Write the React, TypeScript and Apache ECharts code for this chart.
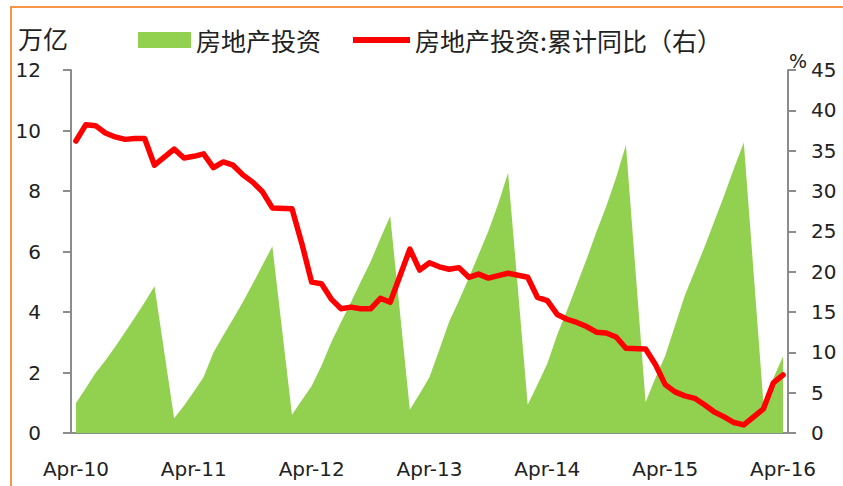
import React, { useEffect, useRef } from "react";
import * as echarts from "echarts";

// ---- data ----
const monthNames = ["Jan", "Feb", "Mar", "Apr", "May", "Jun", "Jul", "Aug", "Sep", "Oct", "Nov", "Dec"];
const years = [2010, 2011, 2012, 2013, 2014, 2015, 2016];
const firstMonthIndex = 3; // Apr-10
const lastMonthIndex = 3; // Apr-16

// cumulative real-estate investment, trillion yuan (Jan not published -> null)
const invest2010 = [0.98, 1.48, 1.98, 2.4, 2.85, 3.33, 3.82, 4.32, 4.85];
const invest2011 = [null, 0.49, 0.9, 1.36, 1.85, 2.66, 3.22, 3.77, 4.33, 4.93, 5.55, 6.17];
const invest2012 = [null, 0.6, 1.08, 1.55, 2.22, 3.0, 3.67, 4.32, 5.0, 5.66, 6.43, 7.17];
const invest2013 = [null, 0.77, 1.3, 1.85, 2.75, 3.68, 4.38, 5.12, 5.9, 6.68, 7.58, 8.6];
const invest2014 = [null, 0.93, 1.6, 2.3, 3.25, 4.05, 4.9, 5.75, 6.65, 7.5, 8.45, 9.52];
const invest2015 = [null, 1.02, 1.82, 2.55, 3.55, 4.55, 5.35, 6.15, 7.0, 7.85, 8.75, 9.6];
const invest2016 = [null, 0.99, 1.8, 2.54];

// cumulative YoY growth, %
const growth2010 = [36.2, 38.2, 38.1, 37.2, 36.7, 36.4, 36.5, 36.5, 33.2];
const growth2011 = [null, 35.2, 34.1, 34.3, 34.6, 32.9, 33.6, 33.2, 32.0, 31.1, 29.9, 27.9];
const growth2012 = [null, 27.8, 23.5, 18.7, 18.5, 16.6, 15.4, 15.6, 15.4, 15.4, 16.7, 16.2];
const growth2013 = [null, 22.8, 20.2, 21.1, 20.6, 20.3, 20.5, 19.3, 19.7, 19.2, 19.5, 19.8];
const growth2014 = [null, 19.3, 16.8, 16.4, 14.7, 14.1, 13.7, 13.2, 12.5, 12.4, 11.9, 10.5];
const growth2015 = [null, 10.4, 8.5, 6.0, 5.1, 4.6, 4.3, 3.5, 2.6, 2.0, 1.3, 1.0];
const growth2016 = [null, 3.0, 6.2, 7.2];

const leftTicks = { min: 0, max: 12, interval: 2 };
const rightTicks = { min: 0, max: 45, interval: 5 };

const seriesNames = ["房地产投资", "房地产投资:累计同比（右）"];

const categories: string[] = [];
years.forEach((y, yi) => {
  const from = yi === 0 ? firstMonthIndex : 0;
  const to = yi === years.length - 1 ? lastMonthIndex : 11;
  for (let m = from; m <= to; m++) {
    categories.push(`${monthNames[m]}-${String(y).slice(2)}`);
  }
});

const investment = [
  ...invest2010, ...invest2011, ...invest2012, ...invest2013, ...invest2014, ...invest2015, ...invest2016,
];
const growth = [
  ...growth2010, ...growth2011, ...growth2012, ...growth2013, ...growth2014, ...growth2015, ...growth2016,
];

const AXIS_COLOR = "#8c8c8c";
const TEXT_COLOR = "#222";
const LATIN = "DejaVu Sans";
const CJK = "Noto Sans CJK SC";

export default function App() {
  const ref = useRef<HTMLDivElement>(null);

  useEffect(() => {
    if (!ref.current) return;
    const chart = echarts.init(ref.current, undefined, { renderer: "svg" });
    const legendText = { fontSize: 25, fontFamily: CJK, color: TEXT_COLOR, lineHeight: 28 };
    chart.setOption({
      animation: false,
      grid: { left: 71, right: 55, top: 70, bottom: 53, containLabel: false },
      legend: [
        {
          data: [{ name: seriesNames[0], icon: "rect" }],
          left: 138,
          top: 26,
          padding: 0,
          itemWidth: 53,
          itemHeight: 16,
          selectedMode: false,
          itemStyle: { borderWidth: 0 },
          textStyle: legendText,
        },
        {
          data: [{ name: seriesNames[1], icon: "rect" }],
          left: 353,
          top: 26,
          padding: 0,
          itemWidth: 57,
          itemHeight: 6,
          selectedMode: false,
          itemStyle: { borderWidth: 0 },
          textStyle: legendText,
        },
      ],
      xAxis: {
        type: "category",
        data: categories,
        boundaryGap: true,
        axisLine: { lineStyle: { color: AXIS_COLOR, width: 2 } },
        axisTick: { interval: 11, length: 8, lineStyle: { color: AXIS_COLOR, width: 2 } },
        axisLabel: { interval: 11, margin: 26, fontSize: 20, fontFamily: LATIN, color: TEXT_COLOR },
        splitLine: { show: false },
      },
      yAxis: [
        {
          type: "value",
          ...leftTicks,
          position: "left",
          axisLine: { show: true, lineStyle: { color: AXIS_COLOR, width: 2 } },
          axisTick: { show: true, length: 8, lineStyle: { color: AXIS_COLOR, width: 2 } },
          axisLabel: { margin: 30, fontSize: 20, fontFamily: LATIN, color: TEXT_COLOR },
          splitLine: { show: false },
        },
        {
          type: "value",
          ...rightTicks,
          position: "right",
          axisLine: { show: true, lineStyle: { color: AXIS_COLOR, width: 2 } },
          axisTick: { show: true, length: 8, lineStyle: { color: AXIS_COLOR, width: 2 } },
          axisLabel: { margin: 23, fontSize: 20, fontFamily: LATIN, color: TEXT_COLOR },
          splitLine: { show: false },
        },
      ],
      series: [
        {
          name: seriesNames[0],
          type: "line",
          data: investment,
          connectNulls: true,
          symbol: "none",
          showSymbol: false,
          lineStyle: { width: 0, color: "#92D050" },
          areaStyle: { color: "#92D050", opacity: 1 },
          itemStyle: { color: "#92D050" },
          z: 1,
        },
        {
          name: seriesNames[1],
          type: "line",
          yAxisIndex: 1,
          data: growth,
          connectNulls: true,
          symbol: "none",
          showSymbol: false,
          lineStyle: { width: 5.5, color: "#FF0000", join: "round", cap: "round" },
          itemStyle: { color: "#FF0000" },
          z: 3,
        },
      ],
      graphic: [
        {
          type: "rect",
          silent: true,
          z: -10,
          shape: { x: 11, y: 7, width: 900, height: 600 },
          style: { fill: "none", stroke: "#F79646", lineWidth: 2 },
        },
        {
          type: "text",
          x: 18,
          y: 38,
          style: {
            text: "万亿",
            fontSize: 25,
            fontFamily: CJK,
            fill: TEXT_COLOR,
            verticalAlign: "middle",
            align: "left",
          },
        },
        {
          type: "text",
          x: 798,
          y: 61,
          style: {
            text: "%",
            fontSize: 19,
            fontFamily: LATIN,
            fill: TEXT_COLOR,
            verticalAlign: "middle",
            align: "center",
          },
        },
      ],
    });
    return () => chart.dispose();
  }, []);

  return (
    <div
      ref={ref}
      style={{ position: "absolute", left: 0, top: 0, width: 843, height: 486, background: "#fff" }}
    />
  );
}
